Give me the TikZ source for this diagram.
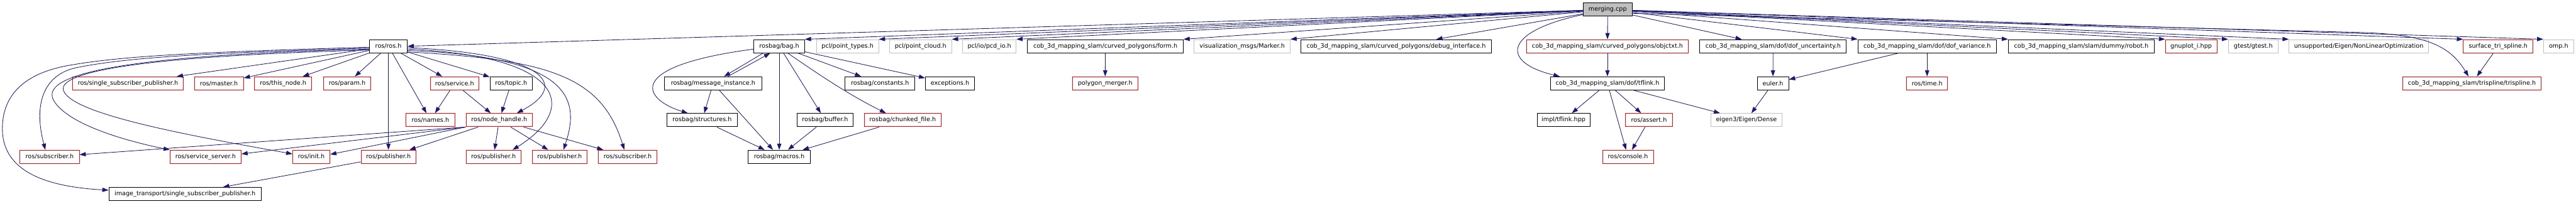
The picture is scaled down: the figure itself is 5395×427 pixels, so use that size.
\documentclass[tikz,border=0pt]{standalone}
\usepackage{fontspec}
\setmainfont{DejaVu Sans}
\usetikzlibrary{arrows.meta,calc}
\definecolor{edgec}{HTML}{191970}
\definecolor{redb}{HTML}{FF0000}
\definecolor{grayb}{HTML}{BFBFBF}
\definecolor{rootfill}{HTML}{BFBFBF}
\tikzset{
  box/.style={draw=black, rectangle, minimum height=28pt, inner sep=0pt, line width=1.2pt,
    font=\fontsize{12.7}{15}\selectfont, fill=white},
  rbox/.style={box, draw=redb},
  gbox/.style={box, draw=grayb},
  rootbox/.style={box, fill=rootfill, draw=black},
  edge/.style={draw=edgec, line width=1.1pt, -{Triangle[length=13pt,width=9pt]}},
}
\begin{document}
\begin{tikzpicture}[x=1pt,y=-1pt]
\useasboundingbox (0,0) rectangle (5395,427);
% row 0
\node[rootbox, minimum width=102pt] (merging) at (3367,20) {merging.cpp};
% row 1
\node[box, minimum width=79pt] (rosh) at (813.5,97) {ros/ros.h};
\node[box, minimum width=106pt] (bagh) at (1632,97) {rosbag/bag.h};
\node[gbox, minimum width=130pt] (pointtypes) at (1775,97) {pcl/point\_types.h};
\node[gbox, minimum width=130pt] (pointcloud) at (1928,97) {pcl/point\_cloud.h};
\node[gbox, minimum width=112pt] (pcdio) at (2072,97) {pcl/io/pcd\_io.h};
\node[box, minimum width=326pt] (form) at (2315,97) {cob\_3d\_mapping\_slam/curved\_polygons/form.h};
\node[gbox, minimum width=201pt] (marker) at (2601.5,97) {visualization\_msgs/Marker.h};
\node[box, minimum width=398pt] (debug) at (2924,97) {cob\_3d\_mapping\_slam/curved\_polygons/debug\_interface.h};
\node[rbox, minimum width=339pt] (objctxt) at (3366.5,97) {cob\_3d\_mapping\_slam/curved\_polygons/objctxt.h};
\node[box, minimum width=307pt] (dofunc) at (3713.5,97) {cob\_3d\_mapping\_slam/dof/dof\_uncertainty.h};
\node[box, minimum width=290pt] (dofvar) at (4036,97) {cob\_3d\_mapping\_slam/dof/dof\_variance.h};
\node[box, minimum width=306pt] (robot) at (4359,97) {cob\_3d\_mapping\_slam/slam/dummy/robot.h};
\node[rbox, minimum width=108pt] (gnuplot) at (4589,97) {gnuplot\_i.hpp};
\node[gbox, minimum width=104pt] (gtest) at (4719,97) {gtest/gtest.h};
\node[gbox, minimum width=292pt] (nonlin) at (4940,97) {unsupported/Eigen/NonLinearOptimization};
\node[rbox, minimum width=146pt] (surf) at (5232,97) {surface\_tri\_spline.h};
\node[gbox, minimum width=63pt] (omp) at (5358.5,97) {omp.h};
% row 2
\node[rbox, minimum width=232pt] (ssp) at (268,175) {ros/single\_subscriber\_publisher.h};
\node[rbox, minimum width=103pt] (master) at (458.5,175) {ros/master.h};
\node[rbox, minimum width=120pt] (thisnode) at (593,175) {ros/this\_node.h};
\node[rbox, minimum width=100pt] (param) at (727,175) {ros/param.h};
\node[rbox, minimum width=102pt] (service) at (952,175) {ros/service.h};
\node[box, minimum width=89pt] (topic) at (1070.5,175) {ros/topic.h};
\node[box, minimum width=203pt] (msginst) at (1493.5,175) {rosbag/message\_instance.h};
\node[box, minimum width=146pt] (constants) at (1843,175) {rosbag/constants.h};
\node[box, minimum width=103pt] (exceptions) at (1989.5,175) {exceptions.h};
\node[rbox, minimum width=137pt] (polymerger) at (2314.5,175) {polygon\_merger.h};
\node[box, minimum width=239pt] (tflink) at (3366.5,175) {cob\_3d\_mapping\_slam/dof/tflink.h};
\node[box, minimum width=66pt] (euler) at (3713,175) {euler.h};
\node[rbox, minimum width=86pt] (time) at (4036,175) {ros/time.h};
\node[rbox, minimum width=290pt] (trispline) at (5177,175) {cob\_3d\_mapping\_slam/trispline/trispline.h};
% row 3
\node[rbox, minimum width=103pt] (names) at (901.5,252) {ros/names.h};
\node[rbox, minimum width=139pt] (nodehandle) at (1045.5,252) {ros/node\_handle.h};
\node[box, minimum width=147pt] (structures) at (1470.5,252) {rosbag/structures.h};
\node[box, minimum width=118pt] (buffer) at (1728,252) {rosbag/buffer.h};
\node[rbox, minimum width=161pt] (chunked) at (1890.5,252) {rosbag/chunked\_file.h};
\node[box, minimum width=111pt] (impltflink) at (3274.5,252) {impl/tflink.hpp};
\node[rbox, minimum width=99pt] (assert) at (3453.5,252) {ros/assert.h};
\node[gbox, minimum width=149pt] (dense) at (3657.5,252) {eigen3/Eigen/Dense};
% row 4
\node[rbox, minimum width=124pt] (sub1) at (104,329) {ros/subscriber.h};
\node[rbox, minimum width=149pt] (srvserver) at (430.5,329) {ros/service\_server.h};
\node[rbox, minimum width=78pt] (init) at (652,329) {ros/init.h};
\node[rbox, minimum width=115pt] (pub1) at (813.5,329) {ros/publisher.h};
\node[rbox, minimum width=115pt] (pub2) at (1033.5,329) {ros/publisher.h};
\node[rbox, minimum width=114pt] (pub3) at (1172,329) {ros/publisher.h};
\node[rbox, minimum width=123pt] (sub2) at (1314.5,329) {ros/subscriber.h};
\node[box, minimum width=130pt] (macros) at (1632,329) {rosbag/macros.h};
\node[rbox, minimum width=107pt] (console) at (3409.5,329) {ros/console.h};
% row 5
\node[box, minimum width=319pt] (imgtrans) at (387.5,407) {image\_transport/single\_subscriber\_publisher.h};

% edges from merging.cpp
\draw[edge] (merging) -- (rosh.east);
\draw[edge] (merging) -- (bagh.north east);
\draw[edge] (merging) -- (pointtypes.north east);
\draw[edge] (merging) -- (pointcloud.north east);
\draw[edge] (merging) -- (pcdio.north east);
\draw[edge] (merging) -- (form.north east);
\draw[edge] (merging) -- (marker.north east);
\draw[edge] (merging) -- (debug);
\draw[edge] (merging) -- (objctxt);
\draw[edge] ($(merging.south west)+(0,-4)$) .. controls (3150,65) and (3140,130) .. ([xshift=20pt]tflink.north west);
\draw[edge] (merging) -- (dofunc);
\draw[edge] (merging) -- (dofvar.north west);
\draw[edge] (merging) -- (robot.north west);
\draw[edge] (merging) -- (gnuplot.north west);
\draw[edge] (merging) -- (gtest.north west);
\draw[edge] (merging) -- (nonlin.north west);
\draw[edge] (merging) -- (surf.north west);
\draw[edge] (merging) -- (omp.north west);
\draw[edge] ($(merging.east)+(0,8)$) -- (4940,68) .. controls (5080,72) and (5130,95) .. ([xshift=-7pt]trispline.north);

% cob cluster
\draw[edge] (form) -- (polymerger);
\draw[edge] (objctxt) -- (tflink);
\draw[edge] (tflink) -- (impltflink);
\draw[edge] (tflink) -- (console);
\draw[edge] (tflink) -- (assert);
\draw[edge] (tflink) -- (dense);
\draw[edge] (assert) -- (console);
\draw[edge] (dofunc) -- (euler);
\draw[edge] (dofvar) -- (euler);
\draw[edge] (dofvar) -- (time);
\draw[edge] (euler) -- (dense);
\draw[edge] (surf) -- (trispline);

% rosbag cluster
\draw[edge] ([xshift=-34pt]bagh.south) -- ([xshift=23pt]msginst.north);
\draw[edge] ([xshift=31pt]msginst.north) -- ([xshift=-19pt]bagh.south);
\draw[edge] ([yshift=-6pt]bagh.west) .. controls (1300,140) and (1350,210) .. ([xshift=-30pt]structures.north);
\draw[edge] (bagh) -- (macros);
\draw[edge] (bagh) -- (buffer);
\draw[edge] (bagh) -- (constants);
\draw[edge] (bagh) -- (exceptions);
\draw[edge] ([xshift=18pt]bagh.south) .. controls (1720,160) and (1780,200) .. ([xshift=-35pt]chunked.north);
\draw[edge] (msginst) -- (structures);
\draw[edge] (msginst) -- (macros);
\draw[edge] (structures) -- (macros);
\draw[edge] (buffer) -- (macros);
\draw[edge] (chunked) -- (macros);

% ros cluster
\draw[edge] (rosh) -- (ssp);
\draw[edge] (rosh) -- (master);
\draw[edge] (rosh) -- (thisnode);
\draw[edge] (rosh) -- (param);
\draw[edge] (rosh) -- (names);
\draw[edge] (rosh) -- (pub1);
\draw[edge] (rosh) -- (service);
\draw[edge] (rosh) -- (topic);
\draw[edge] ($(rosh.east)+(0,3)$) .. controls (1130,112) and (1200,175) .. ([xshift=37pt]nodehandle.north);
\draw[edge] ($(rosh.east)+(0,6)$) .. controls (1190,118) and (1210,230) .. ([xshift=40pt]pub2.north);
\draw[edge] ($(rosh.east)+(0,9)$) .. controls (1200,118) and (1215,210) .. ([xshift=8pt]pub3.north);
\draw[edge] ($(rosh.east)+(0,12)$) .. controls (1150,125) and (1260,160) .. ([xshift=-7pt]sub2.north);
\draw[edge] ($(rosh.west)+(0,2)$) .. controls (400,110) and (250,118) .. (140,138) .. controls (50,155) and (5,200) .. (5,270) .. controls (5,340) and (60,390) .. ([yshift=8pt]imgtrans.west);
\draw[edge] ($(rosh.west)+(0,4)$) .. controls (400,112) and (260,122) .. (160,142) .. controls (90,157) and (70,220) .. ([xshift=-9pt]sub1.north);
\draw[edge] ($(rosh.west)+(0,6)$) .. controls (300,115) and (80,150) .. (112,210) .. controls (140,260) and (260,295) .. (srvserver.north west);
\draw[edge] ($(rosh.west)+(0,8)$) .. controls (300,118) and (120,150) .. (133,190) .. controls (150,240) and (400,285) .. ([yshift=6pt]init.west);
\draw[edge] (service) -- (names);
\draw[edge] (service) -- (nodehandle);
\draw[edge] (topic) -- (nodehandle);
\draw[edge] (nodehandle.south west) -- (sub1);
\draw[edge] (nodehandle.south west) -- ([yshift=6pt]srvserver.east);
\draw[edge] (nodehandle.south west) -- ([yshift=5pt]init.east);
\draw[edge] (nodehandle) -- (pub1);
\draw[edge] (nodehandle) -- (pub2);
\draw[edge] (nodehandle) -- (pub3);
\draw[edge] (nodehandle) -- (sub2);
\draw[edge] (pub1) -- (imgtrans);
\end{tikzpicture}
\end{document}
